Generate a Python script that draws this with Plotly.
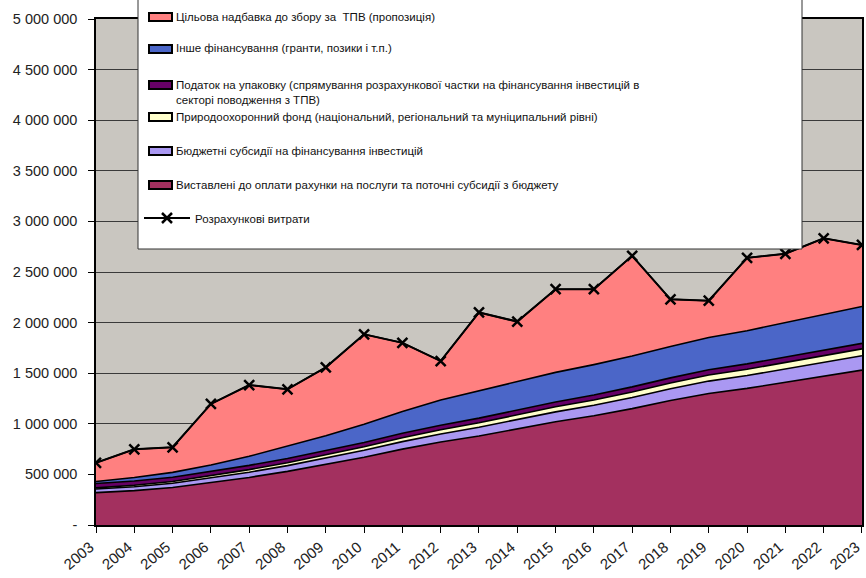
import plotly.graph_objects as go

years = list(range(2003, 2024))
year_labels = [str(y) for y in years]

# values in thousands UAH
invoiced = [320, 340, 370, 420, 470, 530, 600, 670, 750, 820, 880, 950, 1020, 1080, 1150, 1230, 1300, 1350, 1410, 1470, 1530]
budget_subsidies = [35, 38, 42, 47, 52, 57, 62, 68, 74, 80, 86, 92, 98, 104, 110, 116, 122, 127, 132, 137, 142]
env_fund = [12, 15, 18, 22, 25, 28, 32, 35, 38, 41, 44, 47, 50, 52, 55, 57, 60, 62, 64, 66, 68]
packaging_tax = [43, 42, 42, 42, 42, 42, 42, 43, 44, 45, 46, 47, 48, 49, 50, 51, 52, 53, 54, 55, 55]
other_finance = [20, 35, 48, 62, 90, 120, 145, 180, 215, 250, 270, 282, 292, 300, 305, 310, 318, 328, 340, 352, 365]
target_fee = [185, 278, 248, 603, 704, 564, 677, 888, 679, 384, 774, 592, 822, 745, 990, 466, 364, 720, 680, 753, 607]
estimated_costs = [615, 748, 768, 1196, 1383, 1341, 1558, 1884, 1800, 1620, 2100, 2010, 2330, 2330, 2660, 2230, 2216, 2640, 2680, 2833, 2767]

y_tickvals = [0, 500000, 1000000, 1500000, 2000000, 2500000, 3000000, 3500000, 4000000, 4500000, 5000000]
y_ticktext = ["-", "500 000", "1 000 000", "1 500 000", "2 000 000", "2 500 000",
              "3 000 000", "3 500 000", "4 000 000", "4 500 000", "5 000 000"]

names = [
    "Виставлені до оплати рахунки на послуги та поточні субсидії з бюджету",
    "Бюджетні субсидії на фінансування інвестицій",
    "Природоохоронний фонд (національний, регіональний та муніципальний рівні)",
    "Податок на упаковку (спрямування розрахункової частки на фінансування інвестицій в<br>секторі поводження з ТПВ)",
    "Інше фінансування (гранти, позики і т.п.)",
    "Цільова надбавка до збору за  ТПВ (пропозиція)",
]
line_name = "Розрахункові витрати"
series = [invoiced, budget_subsidies, env_fund, packaging_tax, other_finance, target_fee]
colors = ["#A3305F", "#AA98F2", "#FFFFCC", "#660066", "#4B66C8", "#FF8080"]

W, H = 866, 578
L, R, T, B = 96, 862, 19, 525  # plot area in px
def px_x(p):
    return (p - L) / (R - L)
def px_y(p):
    return (B - p) / (B - T)

font_family = "Liberation Sans, Arial, sans-serif"
leg_size = 11.5

fig = go.Figure()
for vals, name, col in zip(series, names, colors):
    fig.add_trace(go.Scatter(
        x=years, y=[v * 1000 for v in vals], name=name, mode="lines",
        stackgroup="one", fillcolor=col,
        line=dict(color="black", width=1.6), showlegend=False,
    ))

fig.add_trace(go.Scatter(
    x=years, y=[v * 1000 for v in estimated_costs], name=line_name,
    mode="lines+markers", line=dict(color="black", width=2),
    marker=dict(symbol="x-thin", size=10, line=dict(color="black", width=2.5)),
    showlegend=True,
))

legend_rows = [  # (series index, row center px)
    (5, 17), (4, 49), (3, 85), (2, 117), (1, 151), (0, 185),
]
shapes = [dict(type="rect", xref="paper", yref="paper",
               x0=px_x(138), x1=px_x(802), y0=px_y(249), y1=px_y(-5),
               fillcolor="white", line=dict(color="#333", width=1), layer="above")]
annotations = []
for idx, yc in legend_rows:
    shapes.append(dict(type="rect", xref="paper", yref="paper",
                       x0=px_x(149), x1=px_x(172), y0=px_y(yc + 4), y1=px_y(yc - 4),
                       fillcolor=colors[idx], line=dict(color="black", width=2), layer="above"))
    annotations.append(dict(xref="paper", yref="paper", x=px_x(174), y=px_y(yc - 8.5),
                            xanchor="left", yanchor="top", align="left", showarrow=False,
                            text=names[idx], font=dict(family=font_family, size=leg_size, color="#111")))

fig.update_layout(
    width=W, height=H,
    margin=dict(l=L, r=W - R, t=T, b=H - B, autoexpand=False),
    paper_bgcolor="white", plot_bgcolor="#C9C6C0",
    font=dict(family=font_family, color="#222"),
    showlegend=True,
    legend=dict(bgcolor="rgba(0,0,0,0)", borderwidth=0,
                font=dict(family=font_family, size=leg_size, color="#111"),
                xanchor="left", x=px_x(139), y=px_y(218), yanchor="middle", itemwidth=46),
    xaxis=dict(range=[2003, 2023.001], tickvals=years, ticktext=year_labels, tickangle=-40,
               ticks="outside", ticklen=6, tickcolor="black", showgrid=False,
               showline=True, linecolor="black", linewidth=1.5, mirror=True,
               tickfont=dict(size=15, color="#222"), zeroline=False,
               ticklabeloverflow="allow", ticklabelshift=-6),
    yaxis=dict(range=[0, 5000000], tickvals=y_tickvals, ticktext=y_ticktext,
               ticks="outside", ticklen=6, tickcolor="black", showgrid=True,
               gridcolor="#3a3a3a", gridwidth=1, showline=True, linecolor="black",
               linewidth=1.5, mirror=True, tickfont=dict(size=14.5, color="#222"),
               ticklabelstandoff=8, zeroline=False),
    shapes=shapes,
    annotations=annotations,
)

fig.write_html("out.html", config={"displayModeBar": False},
               post_script="document.body.style.margin='0';document.body.style.overflow='hidden';")
